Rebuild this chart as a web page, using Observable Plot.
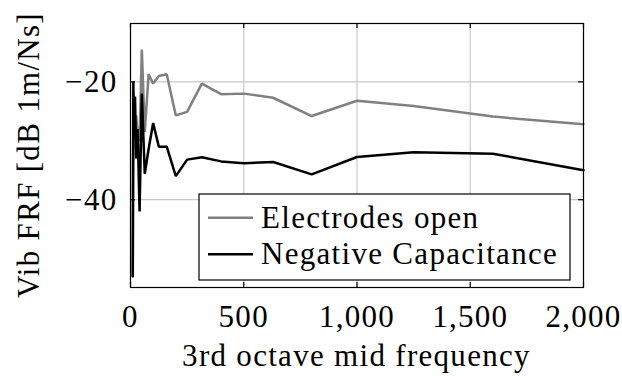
<!DOCTYPE html>
<html>
<head>
<meta charset="utf-8">
<script src="https://cdn.jsdelivr.net/npm/d3@7"></script>
<script src="https://cdn.jsdelivr.net/npm/@observablehq/plot@0.6"></script>
<style>
  html, body { margin: 0; padding: 0; background: white; }
  svg text { letter-spacing: 1.3px; }
</style>
</head>
<body>
<div id="chart"></div>
<script>
// Third-octave mid frequencies (Hz)
const frequencies = [10, 12.5, 16, 20, 25, 31.5, 40, 50, 63, 80, 100, 125, 160, 200, 250, 315, 400, 500, 630, 800, 1000, 1250, 1600, 2000];
// Vib FRF [dB 1m/Ns]
const electrodesOpen = [-53, -26, -25.5, -29, -25.7, -29, -30, -14.5, -28.5, -18.7, -20.3, -19.0, -18.7, -25.7, -25.1, -20.3, -22.1, -22.0, -22.7, -25.8, -23.2, -24.1, -25.9, -27.2];
const negativeCapacitance = [-53, -20, -29, -22.5, -33, -28, -42, -22, -35.6, -31.4, -27, -31, -31, -36, -33.2, -32.8, -33.5, -33.8, -33.6, -35.7, -32.75, -31.95, -32.2, -35.0];
const seriesNames = ["Electrodes open", "Negative Capacitance"];
const seriesColors = ["#808080", "#000000"];
const xTicks = [0, 500, 1000, 1500, 2000];
const yTicks = [-20, -40];
const xLabel = "3rd octave mid frequency";
const yLabel = "Vib FRF [dB 1m/Ns]";

const openRows = frequencies.map((f, i) => ({f, v: electrodesOpen[i]}));
const ncRows = frequencies.map((f, i) => ({f, v: negativeCapacitance[i]}));

const W = 622, H = 376;
const mL = 130, mR = 39, mT = 23, mB = 89;
const frameW = W - mL - mR, frameH = H - mT - mB;
const tickLen = 5;
const fmt = d3.format(",");
const font = "'Liberation Serif', 'Times New Roman', serif";

const chart = Plot.plot({
  width: W, height: H,
  marginLeft: mL, marginRight: mR, marginTop: mT, marginBottom: mB,
  style: {fontFamily: font, fontSize: "31px", background: "white", color: "black", overflow: "visible"},
  x: {domain: [0, 2000]},
  y: {domain: [-54.9, -10.1]},
  marks: [
    Plot.gridX(xTicks, {stroke: "#c8c8c8", strokeOpacity: 1, strokeWidth: 1.2}),
    Plot.gridY(yTicks, {stroke: "#c8c8c8", strokeOpacity: 1, strokeWidth: 1.2}),
    Plot.line(openRows, {x: "f", y: "v", stroke: seriesColors[0], strokeWidth: 2.5, strokeLinejoin: "miter"}),
    Plot.line(ncRows, {x: "f", y: "v", stroke: seriesColors[1], strokeWidth: 2.5, strokeLinejoin: "miter"}),
    Plot.tickX(xTicks, {x: d => d, insetTop: frameH - tickLen, stroke: "black", strokeWidth: 1.2}),
    Plot.tickX(xTicks, {x: d => d, insetBottom: frameH - tickLen, stroke: "black", strokeWidth: 1.2}),
    Plot.tickY(yTicks, {y: d => d, insetRight: frameW - tickLen, stroke: "black", strokeWidth: 1.2}),
    Plot.tickY(yTicks, {y: d => d, insetLeft: frameW - tickLen, stroke: "black", strokeWidth: 1.2}),
    Plot.frame({stroke: "black", strokeWidth: 1.2}),
    Plot.axisX(xTicks, {tickSize: 0, tickPadding: 17, label: null, tickFormat: fmt, fontSize: 31}),
    Plot.axisY(yTicks, {tickSize: 0, tickPadding: 13, label: null, tickFormat: fmt, fontSize: 31})
  ]
});
document.getElementById("chart").appendChild(chart);

const svg = d3.select(chart);
// Axis titles
svg.append("text")
  .attr("x", mL + frameW / 2).attr("y", 366)
  .attr("text-anchor", "middle")
  .attr("font-family", font).attr("font-size", 31).attr("fill", "black")
  .text(xLabel);
svg.append("text")
  .attr("transform", `translate(39,${mT + frameH / 2}) rotate(-90)`)
  .attr("text-anchor", "middle")
  .attr("font-family", font).attr("font-size", 31).attr("fill", "black")
  .text(yLabel);

// Legend
const lg = svg.append("g").attr("text-anchor", "start");
lg.append("rect").attr("x", 199).attr("y", 194).attr("width", 371).attr("height", 86)
  .attr("fill", "white").attr("stroke", "black").attr("stroke-width", 1.2);
const rowsY = [217.7, 254.3];
seriesNames.forEach((name, i) => {
  lg.append("line").attr("x1", 208).attr("x2", 253).attr("y1", rowsY[i]).attr("y2", rowsY[i])
    .attr("stroke", seriesColors[i]).attr("stroke-width", 2.5);
  lg.append("text").attr("x", 261).attr("y", rowsY[i] + 9.8)
    .attr("text-anchor", "start")
    .attr("font-family", font).attr("font-size", 31).attr("fill", "black")
    .text(name);
});
</script>
</body>
</html>
